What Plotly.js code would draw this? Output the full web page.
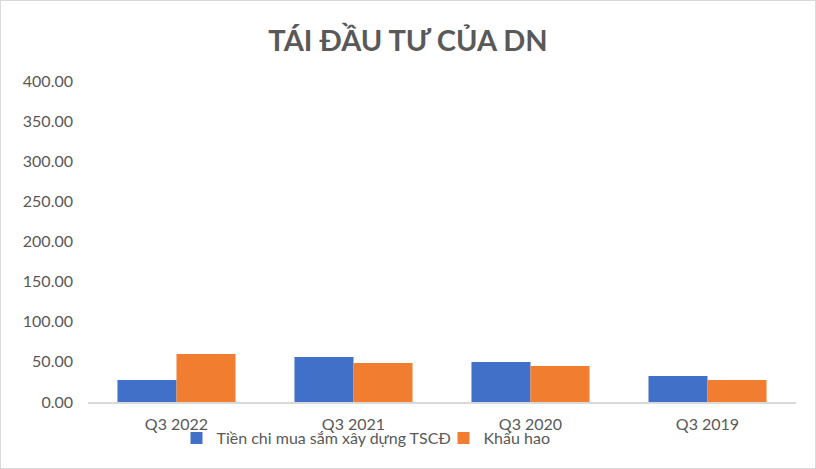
<!DOCTYPE html>
<html><head><meta charset="utf-8">
<script src="https://cdn.plot.ly/plotly-3.0.1.min.js"></script>
<style>html,body{margin:0;padding:0;background:#fff}#c{width:814px;height:467px;border:1px solid #d9d9d9}</style>
</head><body><div id="c"></div>
<script>
const categories = ["Q3 2022", "Q3 2021", "Q3 2020", "Q3 2019"];
const tienChi = [27.4, 56.0, 49.8, 32.4];
const khauHao = [59.8, 48.6, 44.9, 27.4];
const seriesNames = ["Tiền chi mua sắm xây dựng TSCĐ", "Khấu hao"];
const yTicks = [0, 50, 100, 150, 200, 250, 300, 350, 400];

const font = "Lato, 'Open Sans', sans-serif";
const data = [
  {type: "bar", x: categories, y: tienChi, name: seriesNames[0],
   marker: {color: "#4070C8"}, hoverinfo: "skip"},
  {type: "bar", x: categories, y: khauHao, name: seriesNames[1],
   marker: {color: "#F07D30"}, hoverinfo: "skip"}
];
const layout = {
  width: 814, height: 467,
  margin: {l: 87, r: 19, t: 80, b: 66, autoexpand: false},
  paper_bgcolor: "#fff", plot_bgcolor: "#fff",
  barmode: "group", bargap: 0.333, bargroupgap: 0,
  title: {text: "<b>TÁI ĐẦU TƯ CỦA DN</b>", x: 0.5, xanchor: "center", y: 0.915, yanchor: "middle",
          font: {family: font, size: 29, color: "#595959"}},
  xaxis: {type: "category", showline: true, linecolor: "#d9d9d9", linewidth: 2,
          ticks: "", showgrid: false, zeroline: false, ticklabelstandoff: 7,
          tickfont: {family: font, size: 16, color: "#595959"}},
  yaxis: {range: [0, 400], tickvals: yTicks, ticktext: yTicks.map(v => v.toFixed(2)),
          showgrid: false, zeroline: false, showline: false, ticks: "", ticklabelstandoff: 14,
          tickfont: {family: font, size: 16, color: "#595959"}},
  showlegend: true,
  legend: {orientation: "h", xref: "paper", x: 0.125, xanchor: "left",
           yref: "container", y: 0.064, yanchor: "middle", bgcolor: "rgba(0,0,0,0)",
           entrywidth: 222, entrywidthmode: "pixels",
           font: {family: font, size: 16, color: "#595959"}, traceorder: "normal"}
};
Plotly.newPlot("c", data, layout, {displayModeBar: false, staticPlot: true});
</script></body></html>
